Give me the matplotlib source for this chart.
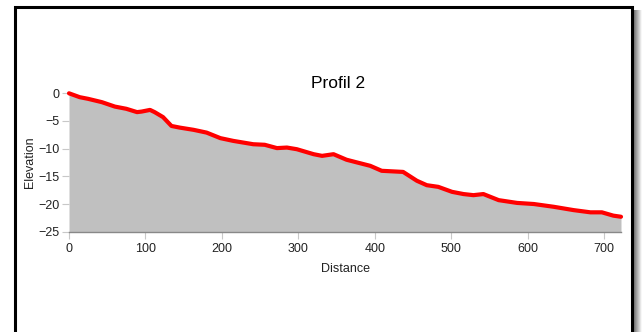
import matplotlib
matplotlib.use("Agg")
import matplotlib.pyplot as plt
from matplotlib.patches import Rectangle
import numpy as np

plt.rcParams['font.family'] = ['Liberation Sans', 'DejaVu Sans']

# profile (distance, elevation)
distance = [0, 14, 25, 43, 60, 75, 89, 95, 106, 112, 123, 134, 145, 163, 180,
            198, 215, 228, 241, 256, 272, 285, 298, 320, 331, 346, 363, 377,
            394, 409, 437, 455, 468, 483, 501, 516, 529, 542, 562, 586, 608,
            634, 660, 682, 697, 712, 722]
elevation = [0, -0.7, -1.0, -1.6, -2.4, -2.8, -3.4, -3.3, -3.0, -3.4, -4.3,
             -5.9, -6.2, -6.6, -7.1, -8.1, -8.6, -8.9, -9.2, -9.3, -9.9, -9.8,
             -10.1, -11.0, -11.3, -11.0, -12.0, -12.5, -13.1, -14.0, -14.2,
             -15.8, -16.6, -16.9, -17.8, -18.2, -18.4, -18.2, -19.3, -19.8,
             -20.0, -20.5, -21.1, -21.5, -21.5, -22.1, -22.3]
xticks = [0, 100, 200, 300, 400, 500, 600, 700]
yticks = [0, -5, -10, -15, -20, -25]
title = "Profil 2"

W, H = 642, 332
fig = plt.figure(figsize=(W / 100, H / 100), dpi=100)

# frame round the chart, bottom edge is cut off
fig.add_artist(Rectangle((15 / W, -0.2), (632 - 15) / W, 1.2 - 7 / H,
                         transform=fig.transFigure, fill=False,
                         ec='black', lw=2.2))
# shadow on the right side
sh = fig.add_axes([634 / W, 0, 8 / W, (H - 10) / H])
grad = np.linspace(0.45, 1.0, 50).reshape(1, -1)
sh.imshow(grad, cmap='gray', vmin=0, vmax=1, aspect='auto')
sh.axis('off')

ax = fig.add_axes([69 / W, 1 - 231.7 / H, (621 - 69) / W, (231.7 - 93.3) / H])
ax.fill_between(distance, elevation, -25, color='#c0c0c0', lw=0)
ax.plot(distance, elevation, color='red', lw=3, clip_on=False,
        solid_capstyle='round', solid_joinstyle='round')

ax.set_xlim(0, 722)
ax.set_ylim(-25, 0)
ax.set_xticks(xticks)
ax.set_yticks(yticks)
ax.tick_params(axis='both', colors='#c8c8c8', labelcolor='#222222',
               labelsize=9, length=5, width=0.8)
ax.tick_params(axis='x', pad=3)
ax.tick_params(axis='y', pad=2)
for s in ['top', 'right', 'left']:
    ax.spines[s].set_visible(False)
ax.spines['bottom'].set_color('#888888')
ax.spines['bottom'].set_linewidth(1)

ax.set_xlabel('Distance', fontsize=9, color='#222222')
ax.set_ylabel('Elevation', fontsize=9, color='#222222')
ax.xaxis.set_label_coords(0.5, -0.225)
ax.yaxis.set_label_coords(-0.06, 0.5)
fig.text(338 / W, 1 - 83 / H, title, fontsize=12.5, ha='center', va='center')

fig.savefig('out.png', dpi=100)
